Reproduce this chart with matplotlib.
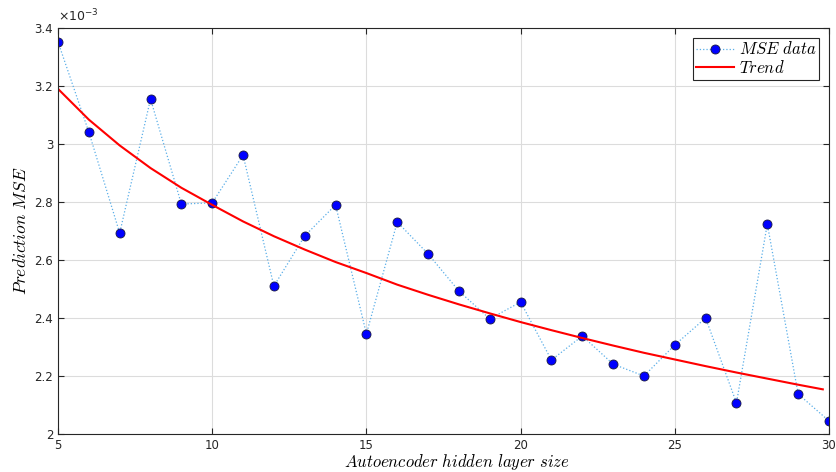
import matplotlib
matplotlib.use("Agg")
import matplotlib.pyplot as plt
from matplotlib.ticker import FuncFormatter

plt.rcParams['mathtext.fontset'] = 'cm'

# hidden layer sizes and MSE (in units of 1e-3)
sizes = list(range(5, 31))
mse = [3.352, 3.041, 2.693, 3.155, 2.793, 2.797, 2.962, 2.510, 2.683, 2.790,
       2.345, 2.731, 2.621, 2.493, 2.397, 2.455, 2.255, 2.338, 2.241, 2.200,
       2.307, 2.400, 2.107, 2.724, 2.138, 2.045]

# trend curve (units of 1e-3)
trend_x = [5, 6, 7, 8, 9, 10, 11, 12, 13, 14, 15, 16, 17, 18, 19, 20,
           21, 22, 23, 24, 25, 26, 27, 28, 29, 29.8]
trend_y = [3.190, 3.084, 2.995, 2.917, 2.849, 2.790, 2.733, 2.682, 2.636, 2.593,
           2.555, 2.515, 2.480, 2.447, 2.416, 2.386, 2.358, 2.331, 2.305, 2.280,
           2.257, 2.234, 2.212, 2.191, 2.170, 2.154]

scale = 1e-3
xticks = [5, 10, 15, 20, 25, 30]
yticks = [2.0, 2.2, 2.4, 2.6, 2.8, 3.0, 3.2, 3.4]

fig = plt.figure(figsize=(8.36, 4.72), dpi=100)
ax = fig.add_axes([0.0694, 0.0805, 0.9222, 0.8602])

ax.plot(sizes, [v * scale for v in mse], linestyle=':', color='#5aaee8', lw=0.9,
        marker='o', markersize=6.5, markerfacecolor='#0000ff',
        markeredgecolor='#1a1a40', markeredgewidth=0.6,
        label=r'$\mathit{MSE\ data}$')
ax.plot(trend_x, [v * scale for v in trend_y], color='#ff0000', lw=1.5,
        label=r'$\mathit{Trend}$')

ax.set_xlim(5, 30)
ax.set_ylim(2.0 * scale, 3.4 * scale)
ax.set_xticks(xticks)
ax.set_yticks([v * scale for v in yticks])
ax.yaxis.set_major_formatter(FuncFormatter(lambda v, p: f'{v / scale:g}'))

ax.grid(True, color='#dcdcdc', lw=0.8)
ax.set_axisbelow(True)
ax.tick_params(direction='in', top=True, right=True, length=4, width=0.8,
               labelsize=8.5, labelcolor='#262626', color='#262626')
for s in ax.spines.values():
    s.set_color('#262626')
    s.set_linewidth(0.8)

ax.text(0.0, 1.008, r'$\mathregular{\times10^{-3}}$', transform=ax.transAxes,
        fontsize=9, color='#262626', ha='left', va='bottom')

ax.set_xlabel(r'$\mathit{Autoencoder\ hidden\ layer\ size}$', fontsize=12, labelpad=0)
ax.xaxis.set_label_coords(0.5175, -0.045, transform=ax.transAxes)
ax.xaxis.label.set_va('top')
ax.set_ylabel(r'$\mathit{Prediction\ MSE}$', fontsize=12.5, labelpad=3)

leg = ax.legend(loc='upper right', fontsize=12, fancybox=False, framealpha=1,
                edgecolor='#262626', borderpad=0.15, labelspacing=0.05,
                handlelength=2.3, handletextpad=0.3, borderaxespad=0.6)
leg.get_frame().set_linewidth(0.8)

fig.savefig('out.png', dpi=100)
